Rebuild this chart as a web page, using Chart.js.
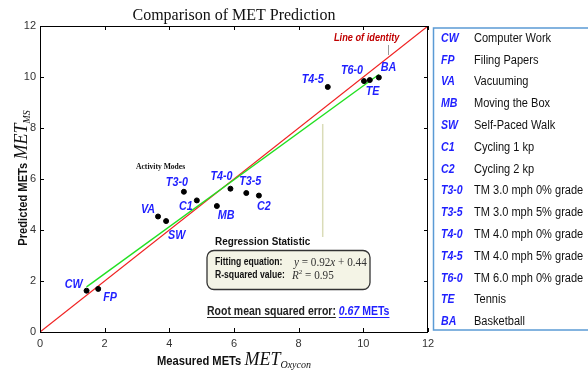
<!DOCTYPE html>
<html>
<head>
<meta charset="utf-8">
<script src="https://cdn.jsdelivr.net/npm/chart.js@4/dist/chart.umd.min.js"></script>
<style>
  html, body { margin: 0; padding: 0; background: #fff; }
  #myChart { display: block; }
</style>
</head>
<body>
<canvas id="myChart" width="588" height="373"></canvas>
<script>
// activity codes and names, in legend order
const codes = ['CW', 'FP', 'VA', 'MB', 'SW', 'C1', 'C2', 'T3-0', 'T3-5', 'T4-0', 'T4-5', 'T6-0', 'TE', 'BA'];
const names = ['Computer Work', 'Filing Papers', 'Vacuuming', 'Moving the Box', 'Self-Paced Walk',
  'Cycling 1 kp', 'Cycling 2 kp', 'TM 3.0 mph 0% grade', 'TM 3.0 mph 5% grade', 'TM 4.0 mph 0% grade',
  'TM 4.0 mph 5% grade', 'TM 6.0 mph 0% grade', 'Tennis', 'Basketball'];
// measured (Oxycon) vs predicted METs
const measured = [1.44, 1.80, 3.65, 5.47, 3.90, 4.85, 6.77, 4.45, 6.38, 5.89, 8.90, 10.02, 10.20, 10.48];
const predicted = [1.62, 1.69, 4.53, 4.94, 4.35, 5.16, 5.35, 5.50, 5.45, 5.62, 9.61, 9.84, 9.88, 9.98];
// line of identity and fitted regression line end points
const identityX = [0, 12];
const identityY = [0, 12];
const fitX = [1.44, 10.48];
const fitY = [1.77, 10.1];
const tickValues = [0, 2, 4, 6, 8, 10, 12];

const SANS = '"Liberation Sans", Arial, sans-serif';
const SERIF = '"Liberation Serif", "Times New Roman", serif';
const BLUE = '#1f1fff';

// where each point label sits relative to its point
const labelPos = {
  'CW': [-4, -6, 'right'], 'FP': [5, 9, 'left'], 'VA': [-3, -7, 'right'], 'MB': [1, 10, 'left'],
  'SW': [2, 14, 'left'], 'C1': [-4, 6, 'right'], 'C2': [-2, 11, 'left'], 'T3-0': [-7, -9, 'center'],
  'T3-5': [4, -11, 'center'], 'T4-0': [-9, -12, 'center'], 'T4-5': [-4, -7, 'right'],
  'T6-0': [-1, -11, 'right'], 'TE': [-4, 11, 'left'], 'BA': [2, -10, 'left'],
};

function toPoints(xs, ys) {
  return xs.map((x, i) => ({ x: x, y: ys[i] }));
}

// draw text squeezed horizontally by sx, returns drawn width
function txt(ctx, s, x, y, font, color, align, sx, base) {
  ctx.save();
  ctx.font = font;
  ctx.fillStyle = color;
  ctx.textAlign = 'left';
  ctx.textBaseline = base || 'middle';
  const w = ctx.measureText(s).width * sx;
  const x0 = align === 'center' ? x - w / 2 : align === 'right' ? x - w : x;
  ctx.translate(x0, y);
  ctx.scale(sx, 1);
  ctx.fillText(s, 0, 0);
  ctx.restore();
  return w;
}

function width(ctx, s, font, sx) {
  ctx.save();
  ctx.font = font;
  const w = ctx.measureText(s).width * sx;
  ctx.restore();
  return w;
}

// axis title: bold words + italic MET with subscript, centred on 0,0 baseline
function axisTitle(ctx, words, sub) {
  const f1 = 'bold 13px ' + SANS, f2 = 'italic 18px ' + SERIF, f3 = 'italic 10px ' + SERIF;
  const parts = [[words + ' ', f1, 0.86, 0], ['MET', f2, 1, 0], [sub, f3, 1, 3]];
  let total = 0;
  parts.forEach(p => { total += width(ctx, p[0], p[1], p[2]); });
  let x = -total / 2;
  parts.forEach(p => {
    x += txt(ctx, p[0], x, p[3], p[1], '#111', 'left', p[2], 'alphabetic');
  });
}

const overlay = {
  id: 'overlay',
  afterDraw(chart) {
    const ctx = chart.ctx;
    const a = chart.chartArea;
    const xs = chart.scales.x, ys = chart.scales.y;

    // frame with inward ticks on all four sides
    ctx.save();
    ctx.strokeStyle = '#000';
    ctx.lineWidth = 1;
    ctx.strokeRect(a.left + 0.5, a.top + 0.5, a.right - a.left - 1, a.bottom - a.top);
    ctx.beginPath();
    tickValues.forEach(v => {
      const px = Math.round(xs.getPixelForValue(v)) + 0.5;
      ctx.moveTo(px, a.bottom); ctx.lineTo(px, a.bottom - 4);
      ctx.moveTo(px, a.top); ctx.lineTo(px, a.top + 4);
      const py = Math.round(ys.getPixelForValue(v)) + 0.5;
      ctx.moveTo(a.left, py); ctx.lineTo(a.left + 4, py);
      ctx.moveTo(a.right, py); ctx.lineTo(a.right - 4, py);
    });
    ctx.stroke();
    ctx.restore();

    // title
    txt(ctx, 'Comparison of MET Prediction', (a.left + a.right) / 2, 20, '16px ' + SERIF, '#111', 'center', 1, 'alphabetic');

    // axis titles
    ctx.save();
    ctx.translate((a.left + a.right) / 2, 365);
    axisTitle(ctx, 'Measured METs', 'Oxycon');
    ctx.restore();
    ctx.save();
    ctx.translate(27, 178);
    ctx.rotate(-Math.PI / 2);
    axisTitle(ctx, 'Predicted METs', 'MS');
    ctx.restore();

    // point labels
    const meta = chart.getDatasetMeta(0);
    codes.forEach((c, i) => {
      const el = meta.data[i];
      const p = labelPos[c];
      txt(ctx, c, el.x + p[0], el.y + p[1], 'italic bold 12.5px ' + SANS, BLUE, p[2], 0.86);
    });

    // line of identity note
    txt(ctx, 'Line of identity', 334, 38, 'italic bold 10px ' + SANS, '#c00000', 'left', 0.92);
    ctx.save();
    ctx.strokeStyle = '#999';
    ctx.lineWidth = 1;
    ctx.beginPath();
    ctx.moveTo(388.5, 45); ctx.lineTo(388.5, 55);
    ctx.stroke();
    // pale pointer line
    ctx.strokeStyle = '#dadcb8';
    ctx.lineWidth = 1.5;
    ctx.beginPath();
    ctx.moveTo(322.7, 124); ctx.lineTo(322.7, 237);
    ctx.stroke();
    ctx.restore();

    txt(ctx, 'Activity Modes', 136, 167, 'bold 8px ' + SERIF, '#111', 'left', 0.95);

    // regression statistic box
    txt(ctx, 'Regression Statistic', 215, 242, 'bold 11px ' + SANS, '#111', 'left', 0.9);
    ctx.save();
    ctx.beginPath();
    ctx.roundRect(207, 250.5, 163, 39, 7);
    ctx.fillStyle = '#f4f4e6';
    ctx.fill();
    ctx.strokeStyle = '#333';
    ctx.lineWidth = 1.3;
    ctx.stroke();
    ctx.restore();
    txt(ctx, 'Fitting equation:', 215, 262, 'bold 10.5px ' + SANS, '#111', 'left', 0.82);
    txt(ctx, 'R-squared value:', 215, 275, 'bold 10.5px ' + SANS, '#111', 'left', 0.82);
    let x = 294;
    [['y', 'italic '], [' = 0.92', ''], ['x', 'italic '], [' + 0.44', '']].forEach(p => {
      x += txt(ctx, p[0], x, 266, p[1] + '12px ' + SERIF, '#333', 'left', 0.93, 'alphabetic');
    });
    x = 292;
    x += txt(ctx, 'R', x, 279, 'italic 12px ' + SERIF, '#333', 'left', 0.93, 'alphabetic');
    x += txt(ctx, '2', x, 274, '7px ' + SERIF, '#333', 'left', 1, 'alphabetic');
    txt(ctx, ' = 0.95', x, 279, '12px ' + SERIF, '#333', 'left', 0.93, 'alphabetic');

    // root mean squared error
    const f = 'bold 12.5px ' + SANS;
    const w1 = txt(ctx, 'Root mean squared error: ', 207, 315, f, '#222', 'left', 0.84, 'alphabetic');
    const w2 = txt(ctx, '0.67', 207 + w1, 315, 'italic ' + f, BLUE, 'left', 0.84, 'alphabetic');
    const w3 = txt(ctx, ' METs', 207 + w1 + w2, 315, f, BLUE, 'left', 0.84, 'alphabetic');
    ctx.save();
    ctx.lineWidth = 1;
    ctx.strokeStyle = '#222';
    ctx.beginPath(); ctx.moveTo(207, 317.5); ctx.lineTo(207 + w1 - 3, 317.5); ctx.stroke();
    ctx.strokeStyle = BLUE;
    ctx.beginPath(); ctx.moveTo(207 + w1, 317.5); ctx.lineTo(207 + w1 + w2 + w3, 317.5); ctx.stroke();
    ctx.restore();

    // legend box
    ctx.save();
    ctx.strokeStyle = '#5b9bd5';
    ctx.lineWidth = 1.5;
    ctx.strokeRect(433.5, 28, 170, 302);
    ctx.restore();
    codes.forEach((c, i) => {
      const y = 38.5 + i * 21.8;
      txt(ctx, c, 441, y, 'italic bold 12px ' + SANS, BLUE, 'left', 0.88);
      txt(ctx, names[i], 474, y, '12px ' + SANS, '#111', 'left', 0.92);
    });
  },
};

const tickFont = { family: SANS, size: 11 };

new Chart(document.getElementById('myChart').getContext('2d'), {
  type: 'scatter',
  data: {
    datasets: [
      {
        label: 'Activity Modes',
        data: toPoints(measured, predicted),
        backgroundColor: '#000',
        borderColor: '#000',
        pointRadius: 2.5,
        pointHoverRadius: 2.5,
      },
      {
        label: 'Regression',
        data: toPoints(fitX, fitY),
        showLine: true,
        borderColor: '#22e022',
        borderWidth: 1.4,
        pointRadius: 0,
      },
      {
        label: 'Line of identity',
        data: toPoints(identityX, identityY),
        showLine: true,
        borderColor: '#f02020',
        borderWidth: 1.2,
        pointRadius: 0,
      },
    ],
  },
  options: {
    responsive: false,
    animation: false,
    devicePixelRatio: 1,
    layout: { padding: { left: 0, top: 26, right: 160, bottom: 0 } },
    plugins: {
      legend: { display: false },
      title: { display: false },
      tooltip: { enabled: false },
    },
    scales: {
      x: {
        type: 'linear',
        min: 0,
        max: 12,
        ticks: { stepSize: 2, padding: 5, color: '#333', font: tickFont },
        grid: { display: false, drawTicks: false },
        border: { display: false },
        afterFit: s => { s.height = 41; },
      },
      y: {
        type: 'linear',
        min: 0,
        max: 12,
        ticks: { stepSize: 2, padding: 4, color: '#333', font: tickFont },
        grid: { display: false, drawTicks: false },
        border: { display: false },
        afterFit: s => { s.width = 40; },
      },
    },
  },
  plugins: [overlay],
});
</script>
</body>
</html>
